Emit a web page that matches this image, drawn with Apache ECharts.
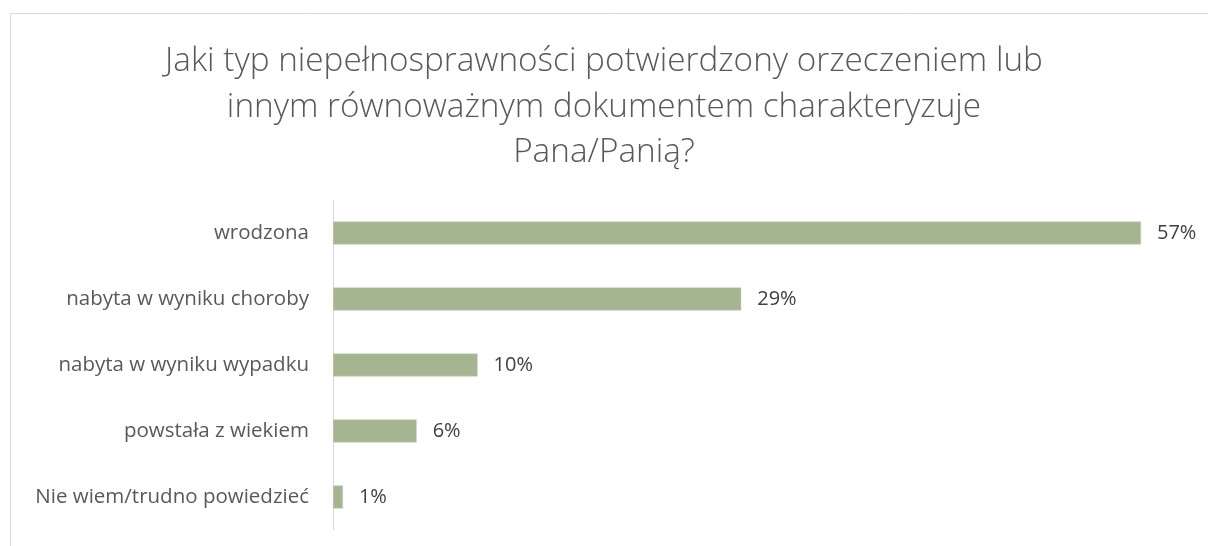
<!DOCTYPE html>
<html>
<head>
<meta charset="utf-8">
<script src="https://cdn.jsdelivr.net/npm/echarts@6/dist/echarts.min.js"></script>
<style>
  html, body { margin: 0; padding: 0; background: #fff; }
  #grafica { width: 1208px; height: 546px; }
</style>
</head>
<body>
<div id="grafica"></div>
<script>
const tytul = "Jaki typ niepełnosprawności potwierdzony orzeczeniem lub\ninnym równoważnym dokumentem charakteryzuje\nPana/Panią?";
const kategorie = ["wrodzona", "nabyta w wyniku choroby", "nabyta w wyniku wypadku", "powstała z wiekiem", "Nie wiem/trudno powiedzieć"];
const wartosci = [57.0, 28.8, 10.2, 5.9, 0.7];

var dom = document.getElementById('grafica');
var myChart = echarts.init(dom, null, { renderer: 'canvas' });

var option = {
  backgroundColor: '#fff',
  animation: false,
  title: {
    text: tytul,
    left: 'center',
    top: 34,
    textStyle: {
      fontFamily: 'Open Sans',
      fontWeight: 300,
      fontSize: 33.3,
      lineHeight: 45.5,
      color: '#595959'
    }
  },
  graphic: [{
    type: 'rect',
    left: 8, top: 11,
    shape: { width: 1400, height: 700 },
    style: { fill: 'none', stroke: '#d9d9d9', lineWidth: 1 },
    silent: true
  }],
  grid: { left: 333, right: 24.5, top: 200, bottom: 16 },
  xAxis: {
    type: 'value',
    min: 0,
    max: 60,
    show: false
  },
  yAxis: {
    type: 'category',
    data: kategorie,
    inverse: true,
    axisLine: { show: true, lineStyle: { color: '#d9d9d9', width: 1 } },
    axisTick: { show: false },
    axisLabel: {
      margin: 24,
      fontFamily: 'Open Sans',
      fontSize: 20.5,
      color: '#595959'
    }
  },
  series: [{
    type: 'bar',
    data: wartosci,
    barWidth: 23,
    itemStyle: { color: '#a5b592', borderColor: '#c3cfb5', borderWidth: 0.5 },
    label: {
      show: true,
      position: 'right',
      distance: 16,
      fontFamily: 'Open Sans',
      fontSize: 20,
      color: '#404040',
      formatter: p => Math.round(p.value) + '%'
    }
  }]
};

myChart.setOption(option);
window.addEventListener('resize', myChart.resize);
</script>
</body>
</html>
